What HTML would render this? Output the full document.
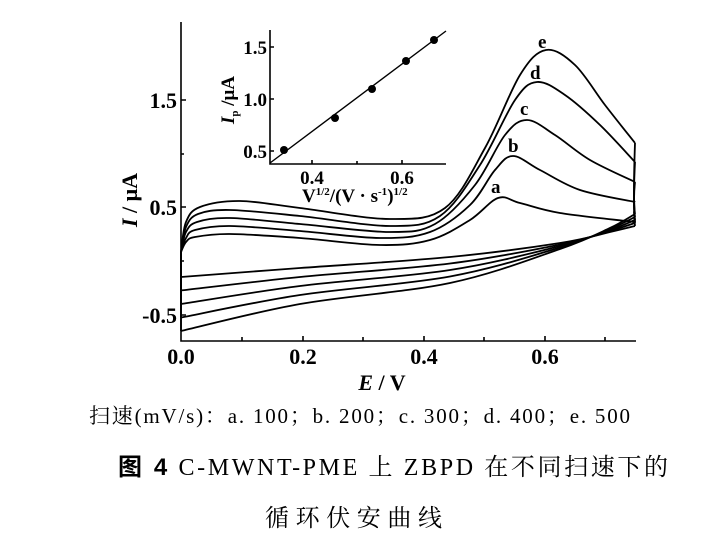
<!DOCTYPE html>
<html><head><meta charset="utf-8"><style>
body{margin:0;background:#fff;width:705px;height:551px;overflow:hidden}
svg{display:block}
text{font-family:"Liberation Serif","Noto Serif CJK SC",serif;fill:#000}
</style></head><body>
<svg id="s" width="705" height="551" viewBox="0 0 705 551" xmlns="http://www.w3.org/2000/svg">
<g stroke="#000" stroke-width="1.6" fill="none">
<path d="M181,22 V341 H636"/>
<path d="M181,100h5M181,207h5M181,315h5M181,154h3M181,261h3"/>
<path d="M242,341v-4M303,341v-5M363,341v-4M424,341v-5M484,341v-4M545,341v-5M605,341v-4"/>
<path d="M270,30 V164 H446"/>
<path d="M270,47h4M270,99h4M270,151h4M312,164v-4M402,164v-4M357,164v-3"/>
<path d="M270,163 L446,31" stroke-width="1.4"/>
</g>
<g fill="#000"><circle cx="284" cy="150" r="4"/><circle cx="335" cy="118" r="4"/><circle cx="372" cy="89" r="4"/><circle cx="406" cy="61" r="4"/><circle cx="434" cy="40" r="4"/></g>
<g id="curves" stroke="#000" stroke-width="1.8" fill="none"></g>
<g font-size="22" font-weight="bold">
<text x="177" y="108" text-anchor="end">1.5</text>
<text x="177" y="215" text-anchor="end">0.5</text>
<text x="177" y="323" text-anchor="end">-0.5</text>
<text x="181" y="364" text-anchor="middle">0.0</text>
<text x="303" y="364" text-anchor="middle">0.2</text>
<text x="424" y="364" text-anchor="middle">0.4</text>
<text x="545" y="364" text-anchor="middle">0.6</text>
<text x="382" y="390" text-anchor="middle" font-style="italic">E<tspan font-style="normal"> / V</tspan></text>
<text transform="translate(137,200) rotate(-90)" text-anchor="middle"><tspan font-style="italic">I</tspan> / μA</text>
</g>
<g font-size="19" font-weight="bold">
<text x="267" y="54" text-anchor="end">1.5</text>
<text x="267" y="106" text-anchor="end">1.0</text>
<text x="267" y="158" text-anchor="end">0.5</text>
<text x="312" y="184" text-anchor="middle">0.4</text>
<text x="402" y="184" text-anchor="middle">0.6</text>
<text x="302" y="202">V<tspan font-size="11" dy="-7">1/2</tspan><tspan dy="7">/(V · s</tspan><tspan font-size="11" dy="-7">-1</tspan><tspan dy="7">)</tspan><tspan font-size="11" dy="-7">1/2</tspan></text>
<text transform="translate(234,100) rotate(-90)" text-anchor="middle"><tspan font-style="italic">I</tspan><tspan font-size="11" dy="4">p</tspan><tspan dy="-4"> /μA</tspan></text>
</g>
<g font-size="19" font-weight="bold">
<text x="491" y="193">a</text><text x="508" y="152">b</text><text x="520" y="115">c</text><text x="530" y="79">d</text><text x="538" y="48">e</text>
</g>
<text x="89" y="423" font-size="21" textLength="541" lengthAdjust="spacing">扫速(mV/s)：a. 100；b. 200；c. 300；d. 400；e. 500</text>
<text x="118" y="475" font-size="24" textLength="550" lengthAdjust="spacing"><tspan font-weight="bold" font-family="Liberation Sans,Noto Sans CJK SC,sans-serif">图 4</tspan>   C-MWNT-PME 上 ZBPD 在不同扫速下的</text>
<text x="265" y="526" font-size="24" textLength="177" lengthAdjust="spacing">循环伏安曲线</text>
</svg>
<script>
function cr(p){let d="M"+p[0][0]+","+p[0][1];for(let i=0;i<p.length-1;i++){const a=p[i-1]||p[i],b=p[i],c=p[i+1],e=p[i+2]||c;d+=" C"+(b[0]+(c[0]-a[0])/6)+","+(b[1]+(c[1]-a[1])/6)+" "+(c[0]-(e[0]-b[0])/6)+","+(c[1]-(e[1]-b[1])/6)+" "+c[0]+","+c[1];}return d;}
const up=[
[[181,252],[186,242],[195,237],[230,234],[300,238],[380,245],[430,240],[470,220],[498,198],[520,203],[560,213],[635,222]],
[[181,252],[186,238],[195,230],[230,226],[300,231],[380,238],[430,232],[470,205],[495,170],[513,156],[540,170],[580,190],[635,202]],
[[181,252],[186,232],[197,222],[230,218],[300,224],[390,232],[435,224],[475,185],[505,135],[527,120],[555,135],[590,160],[635,182]],
[[181,252],[186,227],[198,214],[230,210],[300,216],[390,226],[440,216],[480,165],[515,100],[537,82],[565,95],[600,125],[635,162]],
[[181,252],[186,222],[200,207],[240,201],[300,208],[390,219],[445,208],[485,148],[520,75],[546,50],[575,65],[605,105],[635,143]]];
let h="";
for(let k=0;k<5;k++){
h+='<path d="'+cr(up[k])+'"/>';
const lo=[[181,277+13.5*k],[300,268+9*k],[450,257+6.5*k],[560,243+1.5*k],[610,232-1*k],[635,226-3*k]];
h+='<path d="'+cr(lo)+'"/>';
h+='<path d="M181,'+(277+13.5*k)+' V252"/>';
h+='<path d="M635,'+(226-3*k)+' Q633,'+(200)+' 635,'+up[k][up[k].length-1][1]+'"/>';
}
document.getElementById("curves").innerHTML=h;
</script>
</body></html>
